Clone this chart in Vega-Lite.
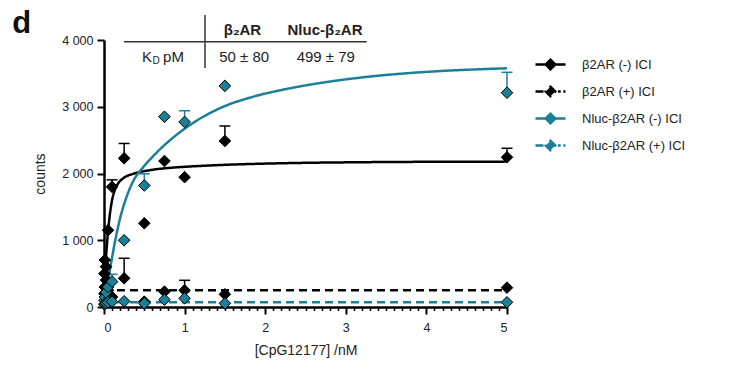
{
  "$schema": "https://vega.github.io/schema/vega-lite/v6.json",
  "width": 403,
  "height": 267,
  "autosize": {"type": "none"},
  "padding": {"left": 104, "top": 40, "right": 236, "bottom": 60},
  "background": "white",
  "config": {
    "view": {"stroke": null},
    "font": "Liberation Sans",
    "axis": {
      "grid": false,
      "domainColor": "#000000",
      "domainWidth": 2.5,
      "tickColor": "#000000",
      "tickWidth": 2,
      "tickSize": 7,
      "labelFont": "Liberation Sans",
      "labelFontSize": 12.5,
      "labelColor": "#222222",
      "titleFont": "Liberation Sans",
      "titleFontSize": 14,
      "titleFontWeight": "normal",
      "titleColor": "#222222"
    },
    "legend": {
      "title": null,
      "orient": "right",
      "offset": 14,
      "padding": 8,
      "rowPadding": 0,
      "symbolSize": 900,
      "symbolStrokeWidth": 2.5,
      "symbolOpacity": 1,
      "labelFont": "Liberation Sans",
      "labelFontSize": 13,
      "labelColor": "#222222",
      "labelOffset": 15
    }
  },
  "datasets": {
    "points": [
      {"series": "β2AR (-) ICI", "x": 0.005, "y": 500},
      {"series": "β2AR (-) ICI", "x": 0.01, "y": 704},
      {"series": "β2AR (-) ICI", "x": 0.025, "y": 604},
      {"series": "β2AR (-) ICI", "x": 0.05, "y": 1150},
      {"series": "β2AR (-) ICI", "x": 0.1, "y": 1800, "upper": 1905},
      {"series": "β2AR (-) ICI", "x": 0.25, "y": 2228, "upper": 2450},
      {"series": "β2AR (-) ICI", "x": 0.5, "y": 1254},
      {"series": "β2AR (-) ICI", "x": 0.75, "y": 2187},
      {"series": "β2AR (-) ICI", "x": 1.0, "y": 1945},
      {"series": "β2AR (-) ICI", "x": 1.5, "y": 2487, "upper": 2712},
      {"series": "β2AR (-) ICI", "x": 5.0, "y": 2243, "upper": 2378},
      {"series": "β2AR (+) ICI", "x": 0.005, "y": 200},
      {"series": "β2AR (+) ICI", "x": 0.01, "y": 300},
      {"series": "β2AR (+) ICI", "x": 0.025, "y": 404},
      {"series": "β2AR (+) ICI", "x": 0.05, "y": 250},
      {"series": "β2AR (+) ICI", "x": 0.1, "y": 150},
      {"series": "β2AR (+) ICI", "x": 0.25, "y": 430, "upper": 730},
      {"series": "β2AR (+) ICI", "x": 0.5, "y": 80},
      {"series": "β2AR (+) ICI", "x": 0.75, "y": 230},
      {"series": "β2AR (+) ICI", "x": 1.0, "y": 250, "upper": 400},
      {"series": "β2AR (+) ICI", "x": 1.5, "y": 190},
      {"series": "β2AR (+) ICI", "x": 5.0, "y": 290},
      {"series": "Nluc-β2AR (-) ICI", "x": 0.005, "y": 100},
      {"series": "Nluc-β2AR (-) ICI", "x": 0.01, "y": 150},
      {"series": "Nluc-β2AR (-) ICI", "x": 0.025, "y": 220},
      {"series": "Nluc-β2AR (-) ICI", "x": 0.05, "y": 300},
      {"series": "Nluc-β2AR (-) ICI", "x": 0.1, "y": 380, "upper": 490},
      {"series": "Nluc-β2AR (-) ICI", "x": 0.25, "y": 1000},
      {"series": "Nluc-β2AR (-) ICI", "x": 0.5, "y": 1820, "upper": 1995},
      {"series": "Nluc-β2AR (-) ICI", "x": 0.75, "y": 2851},
      {"series": "Nluc-β2AR (-) ICI", "x": 1.0, "y": 2772, "upper": 2940},
      {"series": "Nluc-β2AR (-) ICI", "x": 1.5, "y": 3313},
      {"series": "Nluc-β2AR (-) ICI", "x": 5.0, "y": 3210, "upper": 3516},
      {"series": "Nluc-β2AR (+) ICI", "x": 0.005, "y": 40},
      {"series": "Nluc-β2AR (+) ICI", "x": 0.01, "y": 50},
      {"series": "Nluc-β2AR (+) ICI", "x": 0.025, "y": 60},
      {"series": "Nluc-β2AR (+) ICI", "x": 0.05, "y": 70},
      {"series": "Nluc-β2AR (+) ICI", "x": 0.1, "y": 80},
      {"series": "Nluc-β2AR (+) ICI", "x": 0.25, "y": 85},
      {"series": "Nluc-β2AR (+) ICI", "x": 0.5, "y": 55},
      {"series": "Nluc-β2AR (+) ICI", "x": 0.75, "y": 110},
      {"series": "Nluc-β2AR (+) ICI", "x": 1.0, "y": 130},
      {"series": "Nluc-β2AR (+) ICI", "x": 1.5, "y": 55},
      {"series": "Nluc-β2AR (+) ICI", "x": 5.0, "y": 70}
    ],
    "curves": [
      {"series": "β2AR (-) ICI", "x": 0, "y": 0},
      {"series": "β2AR (-) ICI", "x": 0.005, "y": 200},
      {"series": "β2AR (-) ICI", "x": 0.01, "y": 380},
      {"series": "β2AR (-) ICI", "x": 0.02, "y": 640},
      {"series": "β2AR (-) ICI", "x": 0.033, "y": 880},
      {"series": "β2AR (-) ICI", "x": 0.05, "y": 1130},
      {"series": "β2AR (-) ICI", "x": 0.074, "y": 1400},
      {"series": "β2AR (-) ICI", "x": 0.1, "y": 1600},
      {"series": "β2AR (-) ICI", "x": 0.136, "y": 1760},
      {"series": "β2AR (-) ICI", "x": 0.18, "y": 1860},
      {"series": "β2AR (-) ICI", "x": 0.24, "y": 1930},
      {"series": "β2AR (-) ICI", "x": 0.36, "y": 1995},
      {"series": "β2AR (-) ICI", "x": 0.57, "y": 2050},
      {"series": "β2AR (-) ICI", "x": 0.82, "y": 2085},
      {"series": "β2AR (-) ICI", "x": 1.0, "y": 2100},
      {"series": "β2AR (-) ICI", "x": 1.5, "y": 2130},
      {"series": "β2AR (-) ICI", "x": 2.0, "y": 2148},
      {"series": "β2AR (-) ICI", "x": 2.5, "y": 2160},
      {"series": "β2AR (-) ICI", "x": 3.0, "y": 2167},
      {"series": "β2AR (-) ICI", "x": 3.5, "y": 2172},
      {"series": "β2AR (-) ICI", "x": 4.0, "y": 2175},
      {"series": "β2AR (-) ICI", "x": 5.0, "y": 2178},
      {"series": "β2AR (+) ICI", "x": 0, "y": 250},
      {"series": "β2AR (+) ICI", "x": 5.0, "y": 250},
      {"series": "Nluc-β2AR (-) ICI", "x": 0, "y": 0},
      {"series": "Nluc-β2AR (-) ICI", "x": 0.05, "y": 380},
      {"series": "Nluc-β2AR (-) ICI", "x": 0.1, "y": 740},
      {"series": "Nluc-β2AR (-) ICI", "x": 0.15, "y": 1060},
      {"series": "Nluc-β2AR (-) ICI", "x": 0.2, "y": 1330},
      {"series": "Nluc-β2AR (-) ICI", "x": 0.28, "y": 1650},
      {"series": "Nluc-β2AR (-) ICI", "x": 0.36, "y": 1880},
      {"series": "Nluc-β2AR (-) ICI", "x": 0.49, "y": 2100},
      {"series": "Nluc-β2AR (-) ICI", "x": 0.61, "y": 2260},
      {"series": "Nluc-β2AR (-) ICI", "x": 0.7, "y": 2370},
      {"series": "Nluc-β2AR (-) ICI", "x": 0.82, "y": 2500},
      {"series": "Nluc-β2AR (-) ICI", "x": 1.0, "y": 2670},
      {"series": "Nluc-β2AR (-) ICI", "x": 1.23, "y": 2850},
      {"series": "Nluc-β2AR (-) ICI", "x": 1.48, "y": 3000},
      {"series": "Nluc-β2AR (-) ICI", "x": 1.85, "y": 3150},
      {"series": "Nluc-β2AR (-) ICI", "x": 2.2, "y": 3250},
      {"series": "Nluc-β2AR (-) ICI", "x": 2.6, "y": 3340},
      {"series": "Nluc-β2AR (-) ICI", "x": 3.0, "y": 3410},
      {"series": "Nluc-β2AR (-) ICI", "x": 3.4, "y": 3465},
      {"series": "Nluc-β2AR (-) ICI", "x": 3.85, "y": 3510},
      {"series": "Nluc-β2AR (-) ICI", "x": 4.25, "y": 3540},
      {"series": "Nluc-β2AR (-) ICI", "x": 4.67, "y": 3562},
      {"series": "Nluc-β2AR (-) ICI", "x": 5.0, "y": 3576},
      {"series": "Nluc-β2AR (+) ICI", "x": 0, "y": 72},
      {"series": "Nluc-β2AR (+) ICI", "x": 5.0, "y": 72}
    ]
  },
  "resolve": {"axis": {"x": "independent"}},
  "layer": [
    {
      "layer": [
        {
          "data": {"name": "curves"},
          "mark": {"type": "line", "strokeWidth": 2.5, "interpolate": "monotone"},
          "encoding": {
            "x": {
              "field": "x",
              "type": "quantitative",
              "scale": {"domain": [0, 5], "nice": false, "zero": false},
              "axis": {
                "values": [0, 1, 2, 3, 4, 5],
                "format": "d",
                "labelPadding": 7,
                "title": "[CpG12177] /nM",
                "titlePadding": 10
              }
            },
            "y": {
              "field": "y",
              "type": "quantitative",
              "scale": {"domain": [0, 4000], "nice": false},
              "axis": {
                "values": [0, 1000, 2000, 3000, 4000],
                "labelExpr": "replace(format(datum.value, ','), ',', ' ')",
                "labelPadding": 4,
                "title": "counts",
                "titlePadding": 14
              }
            },
            "color": {
              "field": "series",
              "type": "nominal",
              "scale": {
                "domain": ["β2AR (-) ICI", "β2AR (+) ICI", "Nluc-β2AR (-) ICI", "Nluc-β2AR (+) ICI"],
                "range": ["#000000", "#000000", "#1a7f97", "#1a7f97"]
              },
              "legend": {
                "encode": {
                  "symbols": {
                    "update": {
                      "shape": {"signal": "indexof(datum.value, '(+)') >= 0 ? 'M-1,0H-0.45M0.5,0H0.68M0.86,0H1M0,-0.32L0.32,0L0,0.32L-0.32,0Z' : 'M-1,0H1M0,-0.32L0.32,0L0,0.32L-0.32,0Z'"},
                      "fill": {"scale": "color", "field": "value"},
                      "stroke": {"scale": "color", "field": "value"},
                      "strokeWidth": {"value": 2.5},
                      "strokeDash": {"value": [1, 0]}
                    }
                  }
                }
              }
            },
            "strokeDash": {
              "field": "series",
              "type": "nominal",
              "scale": {
                "domain": ["β2AR (-) ICI", "β2AR (+) ICI", "Nluc-β2AR (-) ICI", "Nluc-β2AR (+) ICI"],
                "range": [[1, 0], [8, 5], [1, 0], [8, 5]]
              },
              "legend": null
            }
          }
        },
        {
          "data": {"name": "points"},
          "transform": [{"filter": "isValid(datum.upper)"}],
          "mark": {"type": "rule", "strokeWidth": 1.5},
          "encoding": {
            "x": {"field": "x", "type": "quantitative"},
            "y": {"field": "y", "type": "quantitative"},
            "y2": {"field": "upper"},
            "color": {"field": "series", "type": "nominal"}
          }
        },
        {
          "data": {"name": "points"},
          "transform": [{"filter": "isValid(datum.upper)"}],
          "mark": {"type": "point", "shape": "stroke", "size": 121, "filled": false, "strokeWidth": 1.5, "opacity": 1},
          "encoding": {
            "x": {"field": "x", "type": "quantitative"},
            "y": {"field": "upper", "type": "quantitative"},
            "color": {"field": "series", "type": "nominal"}
          }
        },
        {
          "data": {"name": "points"},
          "mark": {"type": "point", "shape": "diamond", "size": 135, "filled": true, "opacity": 1, "stroke": "#000000", "strokeWidth": 1},
          "encoding": {
            "x": {"field": "x", "type": "quantitative"},
            "y": {"field": "y", "type": "quantitative"},
            "color": {"field": "series", "type": "nominal"}
          }
        },
        {
          "data": {"values": [{}]},
          "mark": {"type": "rule", "stroke": "#333333", "strokeWidth": 1.5},
          "encoding": {
            "x": {"datum": 0.248, "type": "quantitative"},
            "x2": {"datum": 3.26},
            "y": {"datum": 3975, "type": "quantitative"}
          }
        },
        {
          "data": {"values": [{}]},
          "mark": {"type": "rule", "stroke": "#333333", "strokeWidth": 1.5},
          "encoding": {
            "x": {"datum": 1.253, "type": "quantitative"},
            "y": {"datum": 4375, "type": "quantitative"},
            "y2": {"datum": 3580}
          }
        },
        {
          "data": {"values": [{"label": "d"}]},
          "mark": {"type": "text", "font": "Liberation Sans", "fontSize": 31, "fontWeight": "bold", "color": "#111111", "baseline": "alphabetic", "align": "center"},
          "encoding": {
            "x": {"datum": -1.02, "type": "quantitative"},
            "y": {"datum": 4112, "type": "quantitative"},
            "text": {"field": "label"}
          }
        },
        {
          "data": {"values": [{"label": "β₂AR"}]},
          "mark": {"type": "text", "font": "Liberation Sans", "fontSize": 15, "fontWeight": "bold", "color": "#222222", "baseline": "middle"},
          "encoding": {
            "x": {"datum": 1.718, "type": "quantitative"},
            "y": {"datum": 4150, "type": "quantitative"},
            "text": {"field": "label"}
          }
        },
        {
          "data": {"values": [{"label": "Nluc-β₂AR"}]},
          "mark": {"type": "text", "font": "Liberation Sans", "fontSize": 15, "fontWeight": "bold", "color": "#222222", "baseline": "middle"},
          "encoding": {
            "x": {"datum": 2.742, "type": "quantitative"},
            "y": {"datum": 4150, "type": "quantitative"},
            "text": {"field": "label"}
          }
        },
        {
          "data": {"values": [{"label": "50 ± 80"}]},
          "mark": {"type": "text", "font": "Liberation Sans", "fontSize": 15, "color": "#222222", "baseline": "middle"},
          "encoding": {
            "x": {"datum": 1.739, "type": "quantitative"},
            "y": {"datum": 3738, "type": "quantitative"},
            "text": {"field": "label"}
          }
        },
        {
          "data": {"values": [{"label": "499 ± 79"}]},
          "mark": {"type": "text", "font": "Liberation Sans", "fontSize": 15, "color": "#222222", "baseline": "middle"},
          "encoding": {
            "x": {"datum": 2.752, "type": "quantitative"},
            "y": {"datum": 3738, "type": "quantitative"},
            "text": {"field": "label"}
          }
        },
        {
          "data": {"values": [{"label": "K"}]},
          "mark": {"type": "text", "font": "Liberation Sans", "fontSize": 15, "color": "#222222", "baseline": "middle", "align": "right"},
          "encoding": {
            "x": {"datum": 0.596, "type": "quantitative"},
            "y": {"datum": 3738, "type": "quantitative"},
            "text": {"field": "label"}
          }
        },
        {
          "data": {"values": [{"label": "D"}]},
          "mark": {"type": "text", "font": "Liberation Sans", "fontSize": 10, "color": "#222222", "baseline": "middle", "align": "left", "dx": 0.5, "dy": 4},
          "encoding": {
            "x": {"datum": 0.596, "type": "quantitative"},
            "y": {"datum": 3738, "type": "quantitative"},
            "text": {"field": "label"}
          }
        },
        {
          "data": {"values": [{"label": "pM"}]},
          "mark": {"type": "text", "font": "Liberation Sans", "fontSize": 15, "color": "#222222", "baseline": "middle", "align": "left", "dx": 11},
          "encoding": {
            "x": {"datum": 0.596, "type": "quantitative"},
            "y": {"datum": 3738, "type": "quantitative"},
            "text": {"field": "label"}
          }
        }
      ]
    },
    {
      "data": {"values": [{}]},
      "mark": {"type": "point", "opacity": 0},
      "encoding": {
        "x": {
          "datum": 0,
          "type": "quantitative",
          "axis": {
            "orient": "bottom",
            "values": [0.1, 0.2, 0.3, 0.4, 0.5, 0.6, 0.7, 0.8, 0.9, 1.1, 1.2, 1.3, 1.4, 1.5, 1.6, 1.7, 1.8, 1.9, 2.1, 2.2, 2.3, 2.4, 2.5, 2.6, 2.7, 2.8, 2.9, 3.1, 3.2, 3.3, 3.4, 3.5, 3.6, 3.7, 3.8, 3.9, 4.1, 4.2, 4.3, 4.4, 4.5, 4.6, 4.7, 4.8, 4.9],
            "labels": false,
            "domain": false,
            "tickSize": 3.5,
            "tickWidth": 1.5,
            "title": null
          }
        },
        "y": {"datum": 0, "type": "quantitative"}
      }
    }
  ]
}
